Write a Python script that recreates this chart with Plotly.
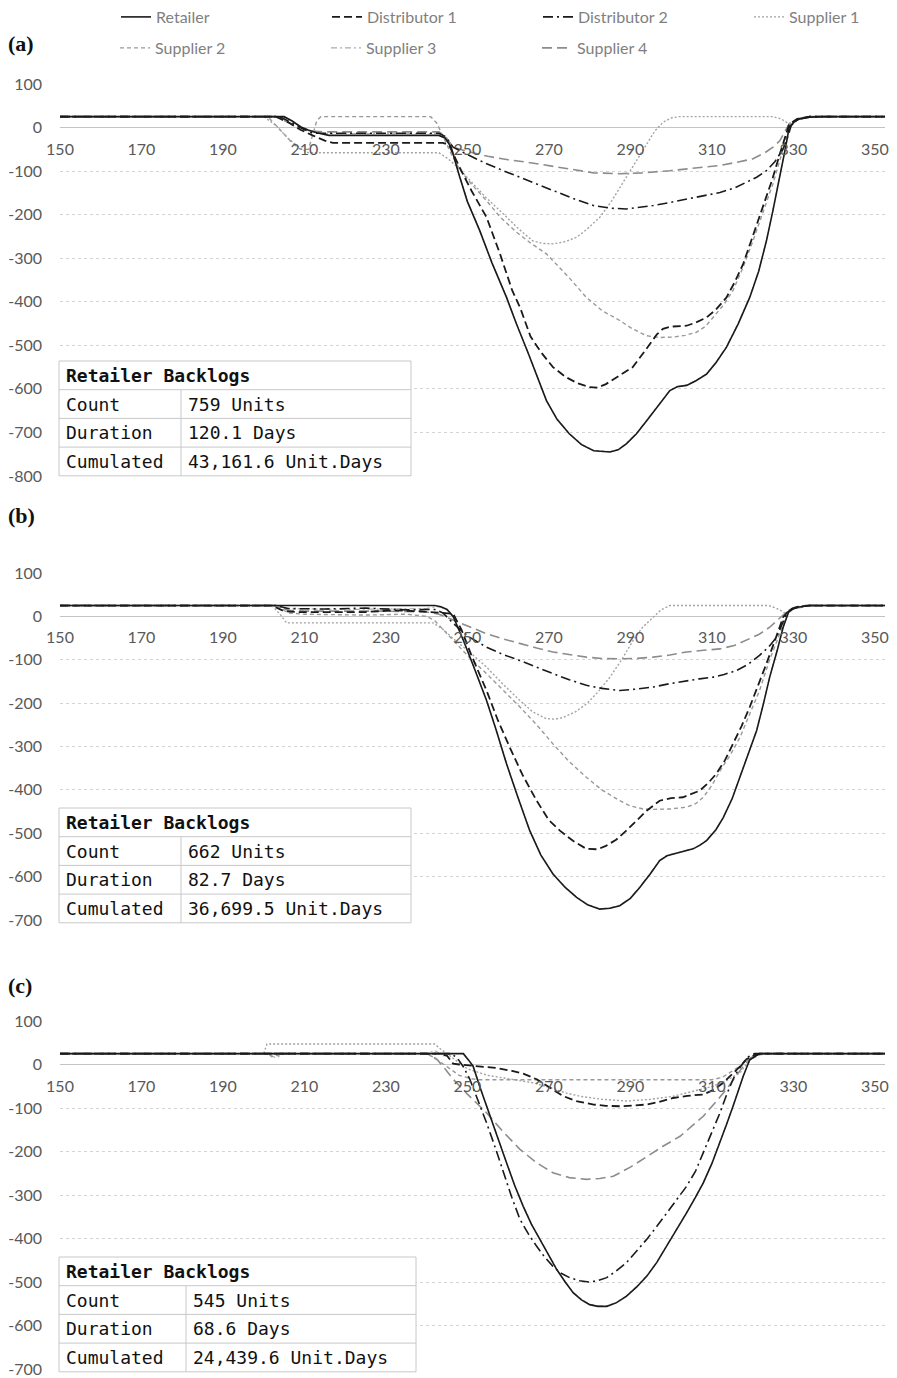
import plotly.graph_objects as go

W, H = 897, 1378

# ---------------- data ----------------
X_TICKS = [150, 170, 190, 210, 230, 250, 270, 290, 310, 330, 350]
Y_TICKS_A = [100, 0, -100, -200, -300, -400, -500, -600, -700, -800]
Y_TICKS_BC = [100, 0, -100, -200, -300, -400, -500, -600, -700]

SERIES = ["Retailer", "Distributor 1", "Distributor 2", "Supplier 1",
          "Supplier 2", "Supplier 3", "Supplier 4"]

# panel (a)  [day, backlog]
A_RETAILER = [[150,25],[205,25],[207,15],[209,2],[211,-6],[213,-12],[216,-18],[243,-18],[244.5,-24],[246,-45],[248,-110],[250,-170],[253,-236],[256,-310],[259.6,-390],[262,-450],[265,-520],[269.4,-627],[272,-670],[275,-703],[278,-728],[281,-742],[285,-745],[287,-740],[289,-726],[291.5,-703],[294,-673],[297,-637],[299.7,-604],[301.5,-595],[303.8,-592],[306,-582],[308.7,-566],[311,-540],[313.6,-504],[316.5,-450],[319.3,-390],[321.5,-330],[323.4,-260],[325,-190],[326.7,-114],[328,-50],[329,1],[330.3,14],[331.6,20],[334,24],[337,25],[352.5,25]]
A_DIST1 = [[150,25],[203,25],[206,12],[209,-5],[212,-18],[215,-30],[217,-35],[244,-35],[245.5,-40],[248,-90],[251,-145],[254.7,-206],[258,-290],[261,-374],[263,-415],[265.5,-480],[268,-515],[271,-550],[274,-572],[277,-587],[280,-596],[282,-597],[284,-589],[287,-572],[290.6,-550],[293,-520],[294.8,-497],[296.5,-475],[298,-462],[300,-457],[303.8,-455],[306,-448],[308.7,-436],[311,-418],[313.6,-390],[315.6,-355],[317.7,-313],[320,-250],[322.6,-183],[324.8,-120],[326.7,-60],[328,-20],[329,8],[331,20],[334,25],[352.5,25]]
A_DIST2 = [[150,25],[204,25],[207,10],[210,-5],[212,-13],[243,-13],[244.5,-20],[246.5,-45],[250,-62],[254,-80],[258.8,-99],[263,-115],[267,-130],[271,-145],[276,-163],[280.9,-179],[285,-185],[289,-187],[292,-184],[295.6,-179],[299.7,-172],[303.8,-164],[308,-157],[312,-149],[315.5,-139],[318.5,-126],[321,-114],[323.4,-99],[325.5,-78],[327.5,-49],[328.5,-25],[329.5,5],[331,18],[334,25],[352.5,25]]
A_SUP1 = [[150,25],[200,25],[203,5],[206,-25],[209,-48],[211,-58],[243,-58],[245,-70],[247.5,-90],[250.6,-122],[254.5,-160],[258.8,-198],[262.5,-232],[266,-260],[268.5,-266],[271,-267],[274,-262],[276.8,-252],[279.5,-232],[282.5,-206],[285.5,-167],[289,-114],[291.5,-75],[294,-37],[296,-8],[298,12],[300,22],[302,25],[325,25],[327,20],[328.5,12],[329.5,5],[331,18],[333,25],[352.5,25]]
A_SUP2 = [[150,25],[201,25],[204,-5],[207,-35],[209,-50],[211,-50],[213,15],[214,25],[241,25],[242.5,10],[244,-20],[246,-60],[248,-95],[251,-130],[254.7,-168],[258,-205],[262,-240],[265.5,-265],[269.4,-290],[272,-315],[275,-345],[279.2,-390],[283,-420],[287.4,-443],[290.5,-462],[294,-478],[297,-482],[300.5,-481],[303.5,-477],[306.2,-470],[308.5,-456],[310.3,-436],[312.8,-408],[315.2,-374],[317.7,-320],[320.1,-260],[322.5,-195],[325,-129],[327,-65],[329,8],[331,20],[334,25],[352.5,25]]
A_SUP3 = [[150,25],[205,25],[208,8],[211,-5],[214,-14],[243,-14],[244.5,-21],[246,-44],[248,-109],[250,-169],[253,-235],[256,-309],[259.6,-389],[262,-449],[265,-519],[269.4,-626],[272,-669],[275,-702],[278,-727],[281,-741],[285,-744],[287,-739],[289,-725],[291.5,-702],[294,-672],[297,-636],[299.7,-603],[301.5,-594],[303.8,-591],[306,-581],[308.7,-565],[311,-539],[313.6,-503],[316.5,-449],[319.3,-389],[321.5,-329],[323.4,-259],[325,-189],[326.7,-113],[328,-49],[329,2],[331.6,20],[337,25],[352.5,25]]
A_SUP4 = [[150,25],[203,25],[206,12],[209,0],[212,-8],[215,-10],[243,-10],[245,-25],[246.5,-45],[250,-55],[255,-66],[260,-74],[265,-80],[270,-88],[276.8,-99],[281,-104],[287.4,-106],[293,-104],[299.7,-99],[306,-93],[312,-87],[316,-80],[320,-72],[323,-58],[325,-45],[326.7,-30],[328,-8],[329,9],[331,20],[334,25],[352.5,25]]

# panel (b)
B_RETAILER = [[150,25],[242,25],[243.5,22],[245,16],[246.5,0],[249,-55],[251.5,-115],[254.7,-194],[257,-260],[259.6,-340],[262.5,-420],[265.3,-494],[268,-550],[271,-594],[274,-625],[276.8,-648],[279.5,-665],[282.5,-675],[285,-673],[287.4,-667],[290,-650],[292.3,-625],[295,-592],[297.2,-563],[299,-552],[300.5,-548],[303,-542],[305.4,-536],[307,-528],[308.7,-517],[311,-492],[312.8,-464],[315,-420],[316.9,-371],[319,-318],[321,-263],[322.7,-200],[324.2,-140],[326,-80],[327.5,-25],[329,14],[331,21],[334,25],[352.5,25]]
B_DIST1 = [[150,25],[202,25],[205,12],[208,10],[225,10],[232,14],[238,12],[243,8],[246.5,6],[248.5,-30],[251,-90],[254.7,-171],[257.5,-240],[260.4,-302],[263.5,-365],[267,-425],[270,-470],[272.7,-494],[276,-518],[279.2,-536],[282,-537],[284,-529],[286.5,-515],[289,-494],[291.5,-470],[294,-448],[297.2,-425],[300,-419],[302.9,-417],[305,-410],[307,-402],[309,-385],[311.1,-363],[313.2,-332],[315.2,-294],[317.3,-253],[319.3,-209],[321.4,-160],[323.4,-109],[325.5,-55],[327.5,-2],[329,15],[331,22],[334,25],[352.5,25]]
B_DIST2 = [[150,25],[203,25],[206,18],[215,17],[225,19],[235,15],[242,16],[244,8],[246.5,-16],[250,-45],[254.7,-71],[258.8,-88],[262.9,-102],[267,-118],[271,-132],[275,-146],[279.2,-159],[283,-166],[287.4,-171],[291,-168],[295.6,-163],[299.7,-155],[303.8,-148],[307,-144],[310.3,-140],[313,-134],[316,-125],[319,-110],[321.7,-90],[324,-70],[325.9,-48],[327,-25],[328.3,6],[330,18],[333,25],[352.5,25]]
B_SUP1 = [[150,25],[202,25],[204,5],[205.6,-15],[241.6,-15],[244,-30],[247,-55],[250.5,-82],[254.7,-117],[258.8,-157],[262.9,-194],[266,-220],[269.4,-236],[271.5,-237],[273.5,-233],[276.5,-220],[279.2,-202],[282,-175],[285,-140],[288,-98],[290.7,-55],[293,-25],[295.6,-2],[297.5,15],[299.7,25],[324,25],[326,18],[328.3,6],[330,18],[333,25],[352.5,25]]
B_SUP2 = [[150,25],[203,25],[206,8],[210,5],[225,3],[235,5],[240,0],[242,-10],[245,-40],[248,-70],[251,-100],[254.7,-132],[258.8,-170],[262.9,-209],[267,-250],[271,-294],[275,-335],[279.2,-371],[283,-400],[287.4,-425],[290,-437],[293.1,-444],[296,-445],[299.7,-444],[303.8,-440],[306,-432],[307.9,-417],[310,-390],[312,-356],[314.5,-320],[316.9,-279],[319.3,-225],[321.7,-171],[324,-105],[326.6,-40],[328.5,5],[330,18],[333,25],[352.5,25]]
B_SUP3 = [[150,25],[202,25],[205,18],[220,16],[240,18],[242,22],[243.5,21],[245,15],[246.5,-1],[249,-54],[251.5,-114],[254.7,-193],[257,-259],[259.6,-339],[262.5,-419],[265.3,-493],[268,-549],[271,-593],[274,-624],[276.8,-647],[279.5,-664],[282.5,-674],[285,-672],[287.4,-666],[290,-649],[292.3,-624],[295,-591],[297.2,-562],[299,-551],[300.5,-547],[303,-541],[305.4,-535],[307,-527],[308.7,-516],[311,-491],[312.8,-463],[315,-419],[316.9,-370],[319,-317],[321,-262],[322.7,-199],[324.2,-139],[326,-79],[327.5,-24],[329,14],[334,25],[352.5,25]]
B_SUP4 = [[150,25],[203,25],[206,14],[210,12],[230,12],[240,10],[243,5],[246.5,-9],[250,-22],[254.7,-40],[258.8,-52],[262.9,-63],[267,-73],[271,-82],[275,-88],[279.2,-94],[283,-97],[287.4,-98],[291.5,-97],[295.6,-94],[299.7,-89],[303.8,-82],[308,-78],[312,-75],[315.5,-67],[318.5,-55],[321.5,-42],[324.2,-25],[326.5,-5],[328.3,10],[330,20],[333,25],[352.5,25]]

# panel (c)
C_RETAILER = [[150,25],[249,25],[250.3,10],[251.4,-4],[253,-50],[254.7,-96],[257,-160],[259.6,-226],[261.6,-278],[263.7,-326],[265.7,-367],[267.8,-402],[270,-440],[271.9,-471],[274,-500],[276,-525],[278,-541],[280,-552],[282,-556],[284.2,-556],[286.5,-548],[289,-533],[291.5,-512],[294,-487],[296.5,-455],[298.9,-418],[301.4,-380],[303.8,-341],[306,-305],[307.9,-272],[310,-228],[312,-180],[313.6,-138],[315.2,-96],[316.5,-60],[317.7,-27],[319.3,11],[321.7,25],[352.5,25]]
C_DIST1 = [[150,25],[243,25],[245,20],[246.5,2],[248,0],[253,-5],[257,-8],[261.2,-15],[264,-22],[267,-34],[270,-52],[273.6,-73],[277,-85],[281,-92],[284,-95],[287.4,-96],[291,-94],[294,-92],[297,-86],[300.5,-77],[304,-72],[307.9,-69],[310.5,-58],[312.8,-42],[315,-22],[317,-4],[318.5,12],[320.5,22],[323,25],[352.5,25]]
C_DIST2 = [[150,25],[246,25],[247.5,15],[249,-5],[250.6,-34],[252.5,-80],[254.7,-134],[256.8,-190],[258.8,-249],[260.8,-303],[262.9,-356],[265,-390],[267,-418],[269,-443],[271,-464],[273,-480],[275.1,-490],[277.5,-497],[280,-500],[282,-497],[284.2,-490],[286.5,-475],[289,-456],[291.5,-430],[294,-402],[296.5,-372],[298.9,-341],[301.4,-311],[303.8,-280],[306,-245],[307.9,-203],[310,-158],[312,-111],[313.6,-70],[315.2,-34],[316.5,-12],[317.7,4],[319,18],[320.5,25],[352.5,25]]
C_SUP1 = [[150,25],[200,25],[200.8,47],[242,47],[243.5,35],[245,25],[247,10],[250,-10],[255,-25],[260,-33],[263,-37],[266,-42],[270,-52],[274,-65],[277.6,-73],[283,-80],[289,-84],[295,-80],[300.5,-73],[305,-62],[310.3,-50],[314,-35],[316.9,-19],[318.5,0],[319.5,11],[321,22],[324,25],[352.5,25]]
C_SUP2 = [[150,25],[201,25],[202,18],[204,22],[205,25],[240,25],[242,15],[245,-5],[248,-25],[251,-33],[253,-35],[310,-35],[312.5,-30],[315,-15],[317.5,0],[319.5,12],[321.5,22],[324,25],[352.5,25]]
C_SUP3 = [[150,25],[201,25],[203,15],[205,25],[240,25],[242,32],[244,20],[246,25],[249,25],[250.3,11],[251.4,-3],[253,-49],[254.7,-95],[257,-159],[259.6,-225],[261.6,-277],[263.7,-325],[265.7,-366],[267.8,-401],[270,-439],[271.9,-470],[274,-499],[276,-524],[278,-540],[280,-551],[282,-555],[284.2,-555],[286.5,-547],[289,-532],[291.5,-511],[294,-486],[296.5,-454],[298.9,-417],[301.4,-379],[303.8,-340],[306,-304],[307.9,-271],[310,-227],[312,-179],[313.6,-137],[315.2,-95],[316.5,-59],[317.7,-26],[319.3,11],[321.7,25],[352.5,25]]
C_SUP4 = [[150,25],[240,25],[241.5,18],[242.6,11],[244.5,-10],[246.5,-34],[250,-68],[254.7,-111],[258.8,-155],[262.9,-195],[267,-226],[271,-249],[275,-260],[279.2,-264],[282.5,-262],[285.8,-257],[290,-236],[294,-211],[298,-188],[302.2,-165],[305,-143],[307.9,-119],[310.8,-88],[313.6,-57],[315.7,-30],[317.7,-4],[319.5,15],[321.5,25],[352.5,25]]

TABLE_TITLE = "Retailer Backlogs"
TABLE_LABELS = ["Count", "Duration", "Cumulated"]
TABLE_A = ["759 Units", "120.1 Days", "43,161.6 Unit.Days"]
TABLE_B = ["662 Units", "82.7 Days", "36,699.5 Unit.Days"]
TABLE_C = ["545 Units", "68.6 Days", "24,439.6 Unit.Days"]

# ---------------- styling ----------------
STYLE = {
    "Retailer":      dict(color="#1a1a1a", width=1.6, dash="solid"),
    "Distributor 1": dict(color="#1a1a1a", width=1.8, dash="8px,4px"),
    "Distributor 2": dict(color="#1a1a1a", width=1.6, dash="10px,4px,2px,4px"),
    "Supplier 1":    dict(color="#a3a3a3", width=1.4, dash="2px,2px"),
    "Supplier 2":    dict(color="#999999", width=1.4, dash="4px,3px"),
    "Supplier 3":    dict(color="#ababab", width=1.2, dash="6px,3px,2px,3px"),
    "Supplier 4":    dict(color="#8c8c8c", width=1.6, dash="10px,5px"),
}
RANK = {n: i + 1 for i, n in enumerate(SERIES)}
LEGEND_OF = {"Retailer": "legend", "Distributor 1": "legend", "Distributor 2": "legend",
             "Supplier 1": "legend", "Supplier 2": "legend2", "Supplier 3": "legend2",
             "Supplier 4": "legend2"}
LAST_IN_ROW = {"Supplier 1", "Supplier 4"}
DRAW_ORDER = ["Supplier 3", "Supplier 4", "Supplier 2", "Supplier 1",
              "Distributor 2", "Distributor 1", "Retailer"]

PANELS = [
    dict(label="(a)", label_y=43, top=84, bottom=476, ymin=-800, ticks=Y_TICKS_A,
         table=TABLE_A, t_top=361, t_left=59, t_right=411, t_div=181,
         data={"Retailer": A_RETAILER, "Distributor 1": A_DIST1, "Distributor 2": A_DIST2,
               "Supplier 1": A_SUP1, "Supplier 2": A_SUP2, "Supplier 3": A_SUP3,
               "Supplier 4": A_SUP4}),
    dict(label="(b)", label_y=515, top=573, bottom=920, ymin=-700, ticks=Y_TICKS_BC,
         table=TABLE_B, t_top=808, t_left=59, t_right=411, t_div=181,
         data={"Retailer": B_RETAILER, "Distributor 1": B_DIST1, "Distributor 2": B_DIST2,
               "Supplier 1": B_SUP1, "Supplier 2": B_SUP2, "Supplier 3": B_SUP3,
               "Supplier 4": B_SUP4}),
    dict(label="(c)", label_y=985, top=1021, bottom=1369, ymin=-700, ticks=Y_TICKS_BC,
         table=TABLE_C, t_top=1257, t_left=59, t_right=416, t_div=186,
         data={"Retailer": C_RETAILER, "Distributor 1": C_DIST1, "Distributor 2": C_DIST2,
               "Supplier 1": C_SUP1, "Supplier 2": C_SUP2, "Supplier 3": C_SUP3,
               "Supplier 4": C_SUP4}),
]
YMAX = 100
X_LEFT, X_RIGHT = 60, 885
X_RANGE = [150, 352.5]
ROW_H = 28.7

def fx(px):
    return px / W

def fy(py):
    return 1 - py / H

TICK_FONT = dict(family="Lato, Noto Sans, sans-serif", size=16, color="#595959")

fig = go.Figure()
layout = dict(
    width=W, height=H, margin=dict(l=0, r=0, t=0, b=0, autoexpand=False),
    paper_bgcolor="white", plot_bgcolor="white", showlegend=True,
    annotations=[], shapes=[],
)

for i, p in enumerate(PANELS):
    sfx = "" if i == 0 else str(i + 1)
    y0, y1 = fy(p["bottom"]), fy(p["top"])
    zero_pos = y0 + (0 - p["ymin"]) / (YMAX - p["ymin"]) * (y1 - y0)
    layout["xaxis" + sfx] = dict(
        domain=[fx(X_LEFT), fx(X_RIGHT)], range=X_RANGE, anchor="free", position=zero_pos,
        tickvals=X_TICKS, ticktext=[str(v) for v in X_TICKS], showgrid=False,
        zeroline=False, showline=False, ticks="", tickfont=TICK_FONT,
        ticklabelstandoff=10, automargin=False, fixedrange=True,
    )
    layout["yaxis" + sfx] = dict(
        domain=[y0, y1], range=[p["ymin"], YMAX], anchor="x" + sfx,
        tickvals=p["ticks"], ticktext=[str(v) for v in p["ticks"]],
        showgrid=True, gridcolor="#d4d4d4", griddash="dot", gridwidth=1,
        zeroline=True, zerolinecolor="#c4c4c4", zerolinewidth=1.2,
        showline=False, ticks="", tickfont=TICK_FONT, ticklabelstandoff=17,
        automargin=False, fixedrange=True,
    )
    for name in DRAW_ORDER:
        pts = p["data"][name]
        st = STYLE[name]
        fig.add_trace(go.Scatter(
            x=[q[0] for q in pts], y=[q[1] for q in pts], mode="lines",
            name=name, legendgroup=name, legend=LEGEND_OF[name],
            legendrank=RANK[name], showlegend=(i == 0),
            legendwidth=(90 if name in LAST_IN_ROW else 166),
            line=dict(color=st["color"], width=st["width"], dash=st["dash"]),
            xaxis="x" + sfx, yaxis="y" + sfx, hoverinfo="skip",
        ))
    # panel label
    layout["annotations"].append(dict(
        text="<b>%s</b>" % p["label"], x=fx(6), y=fy(p["label_y"]), xref="paper", yref="paper",
        xanchor="left", yanchor="middle", showarrow=False,
        font=dict(family="Liberation Serif, DejaVu Serif, serif", size=22, color="#111111"),
    ))
    # table
    tl, tr, tt, td = p["t_left"], p["t_right"], p["t_top"], p["t_div"]
    tb = tt + 4 * ROW_H
    border = dict(color="#c8c8c8", width=1)
    layout["shapes"].append(dict(type="rect", xref="paper", yref="paper",
                                 x0=fx(tl), x1=fx(tr), y0=fy(tb), y1=fy(tt),
                                 fillcolor="white", line=border, layer="above"))
    for r in range(1, 4):
        yy = fy(tt + r * ROW_H)
        layout["shapes"].append(dict(type="line", xref="paper", yref="paper",
                                     x0=fx(tl), x1=fx(tr), y0=yy, y1=yy, line=border, layer="above"))
    layout["shapes"].append(dict(type="line", xref="paper", yref="paper",
                                 x0=fx(td), x1=fx(td), y0=fy(tb), y1=fy(tt + ROW_H),
                                 line=border, layer="above"))
    mono = dict(family="DejaVu Sans Mono, Liberation Mono, monospace", size=18, color="#111111")
    layout["annotations"].append(dict(
        text="<b>%s</b>" % TABLE_TITLE, x=fx(tl + 5), y=fy(tt + ROW_H / 2), xref="paper", yref="paper",
        xanchor="left", yanchor="middle", showarrow=False, font=mono))
    for r, (lab, val) in enumerate(zip(TABLE_LABELS, p["table"])):
        yy = fy(tt + (r + 1.5) * ROW_H)
        layout["annotations"].append(dict(text=lab, x=fx(tl + 5), y=yy, xref="paper", yref="paper",
                                          xanchor="left", yanchor="middle", showarrow=False, font=mono))
        layout["annotations"].append(dict(text=val, x=fx(td + 5), y=yy, xref="paper", yref="paper",
                                          xanchor="left", yanchor="middle", showarrow=False, font=mono))

LEG_FONT = dict(family="Lato, Noto Sans, sans-serif", size=16, color="#7f7f7f")
common_leg = dict(orientation="h", xanchor="left", yanchor="middle", font=LEG_FONT,
                  bgcolor="rgba(0,0,0,0)", borderwidth=0, entrywidth=166,
                  entrywidthmode="pixels", traceorder="normal", itemclick=False,
                  itemdoubleclick=False)
layout["legend"] = dict(common_leg, x=fx(116), y=fy(17))
layout["legend2"] = dict(common_leg, x=fx(115), y=fy(48))

fig.update_layout(**layout)
fig.write_html("out.html", config={"displayModeBar": False},
               post_script=["document.body.style.margin='0';"])
